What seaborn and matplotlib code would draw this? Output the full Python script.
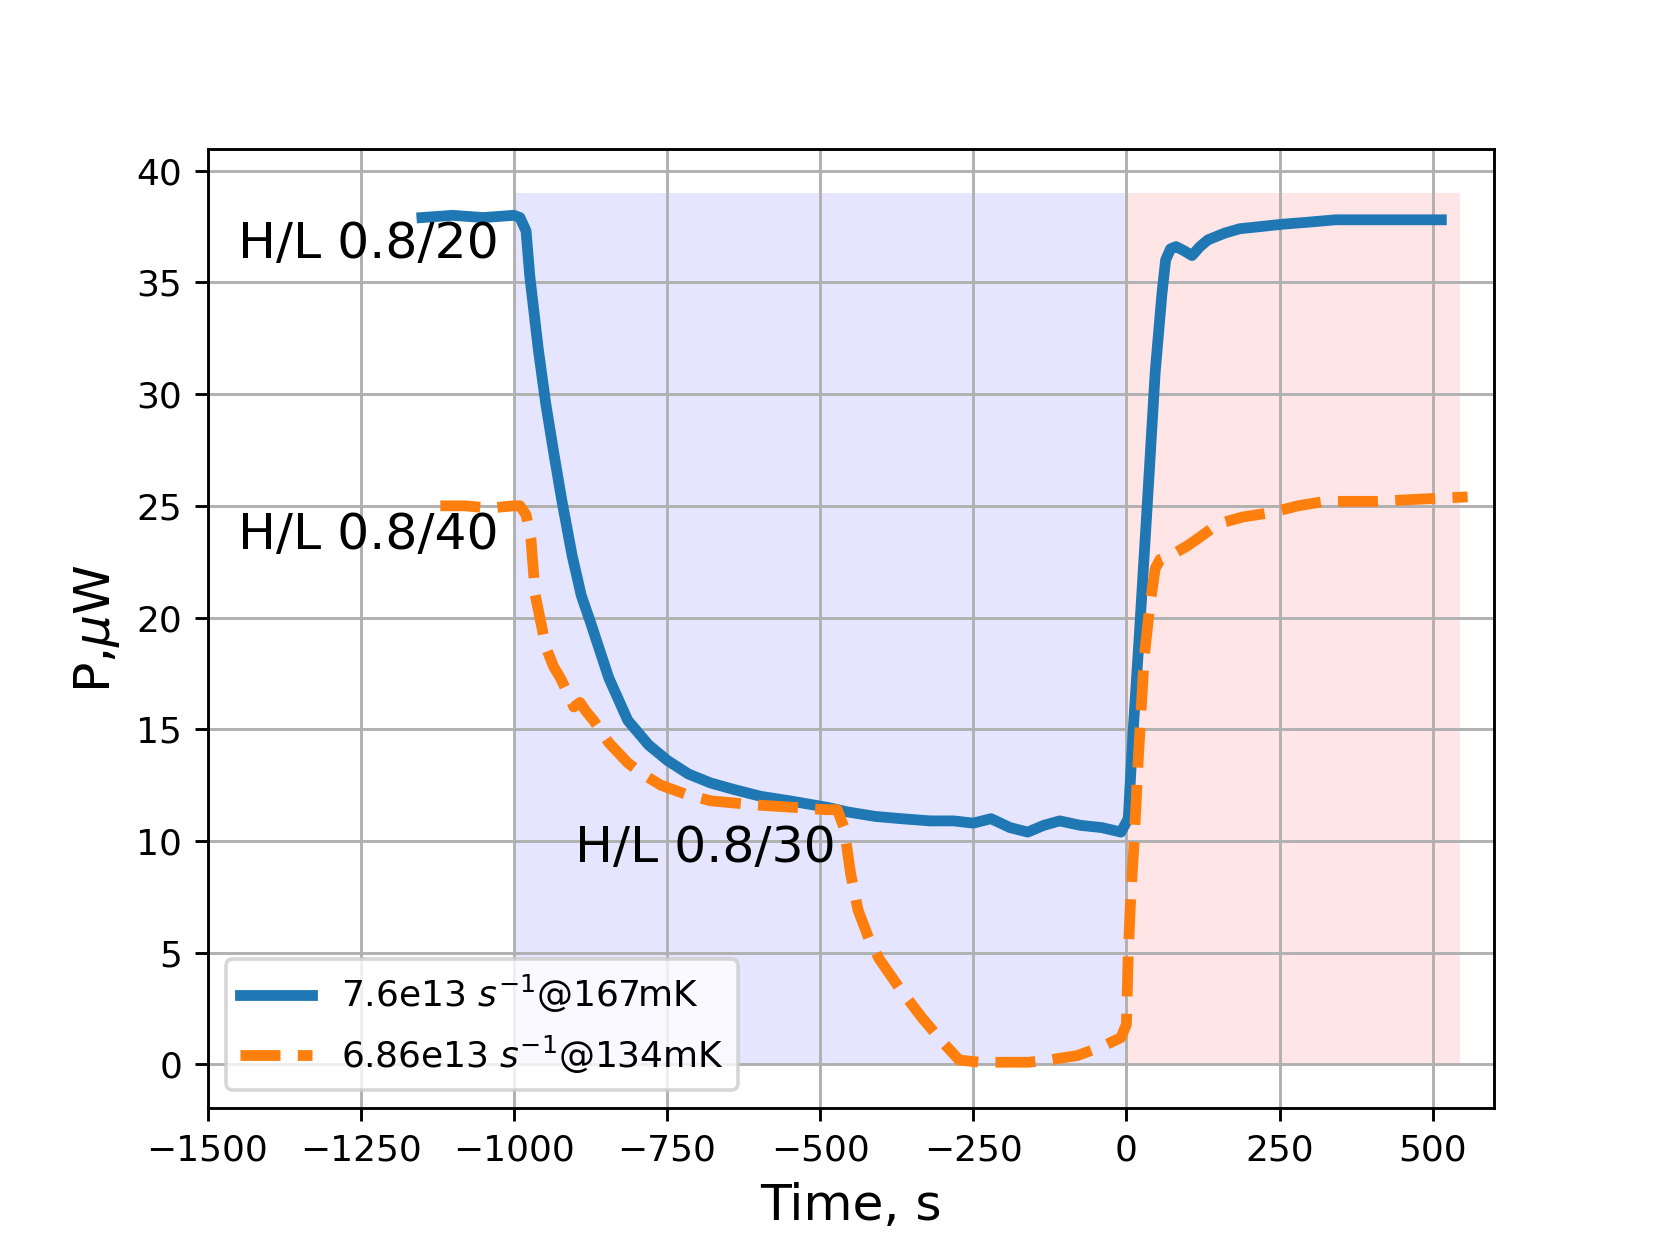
import numpy as np
import pandas as pd
import matplotlib
matplotlib.use("Agg")
import matplotlib.pyplot as plt
import seaborn as sns

t_blue = [-1150, -1100, -1050, -1000, -990, -980, -974, -960, -948, -935, -922, -905, -890,
          -875, -845, -814, -780, -749, -715, -679, -640, -597, -550, -487, -455, -410,
          -368, -320, -282, -250, -221, -190, -161, -135, -109, -75, -40, -9, 3, 10, 21, 35,
          47, 58, 64, 72, 81, 95, 107, 120, 133, 160, 185, 220, 254, 300, 341, 380, 410, 460, 514]
p_blue = [37.9, 38.0, 37.9, 38.0, 37.9, 37.3, 35.3, 32.0, 29.6, 27.4, 25.3, 22.8, 21.0,
          19.8, 17.3, 15.4, 14.3, 13.6, 13.0, 12.6, 12.3, 12.0, 11.8, 11.5, 11.3, 11.1,
          11.0, 10.9, 10.9, 10.8, 11.0, 10.6, 10.4, 10.7, 10.9, 10.7, 10.6, 10.4, 11.0, 14.5, 19.2, 25.5,
          31.0, 34.5, 36.0, 36.5, 36.6, 36.4, 36.2, 36.6, 36.9, 37.2, 37.4, 37.5, 37.6, 37.7, 37.8, 37.8, 37.8, 37.8, 37.8]

t_orange = [-1120, -1080, -1040, -1000, -990, -980, -972, -965, -956, -948, -935, -924, -910,
            -902, -892, -882, -870, -845, -814, -790, -760, -720, -679, -640, -597, -540, -490,
            -472, -461, -450, -438, -420, -403, -370, -334, -300, -273, -240, -196, -160, -126,
            -80, -40, -9, 0, 3, 7, 12, 20, 29, 38, 47, 55, 64, 80, 99, 120, 150, 190, 237, 280,
            324, 370, 410, 480, 557]
p_orange = [25.0, 25.0, 24.9, 25.0, 25.0, 24.6, 23.5, 21.0, 19.8, 18.7, 17.8, 17.3, 16.5,
            16.0, 16.2, 15.8, 15.4, 14.4, 13.5, 13.0, 12.5, 12.1, 11.8, 11.7, 11.6, 11.5, 11.4,
            11.4, 10.6, 8.5, 6.9, 5.6, 4.7, 3.4, 2.1, 1.0, 0.2, 0.1, 0.1, 0.1, 0.2,
            0.4, 0.8, 1.2, 1.8, 5.0, 7.5, 9.7, 14.0, 18.2, 20.5, 22.2, 22.6, 22.7, 22.9, 23.2, 23.6, 24.2, 24.5, 24.7, 25.0,
            25.2, 25.2, 25.2, 25.3, 25.4]

label_blue = r"7.6e13 $s^{-1}$@167mK"
label_orange = r"6.86e13 $s^{-1}$@134mK"

cool_span = [-1000, 0]
warm_span = [0, 545]
span_top = 39

annotations = [("H/L 0.8/20", -1450, 36.7), ("H/L 0.8/40", -1450, 23.7), ("H/L 0.8/30", -900, 9.7)]

df_blue = pd.DataFrame({"t": t_blue, "p": p_blue})
df_orange = pd.DataFrame({"t": t_orange, "p": p_orange})

fig, ax = plt.subplots(figsize=(6.4, 4.8), dpi=259.375)

ax.fill_between(cool_span, 0, span_top, color="b", alpha=0.1, linewidth=0)
ax.fill_between(warm_span, 0, span_top, color="r", alpha=0.1, linewidth=0)

sns.lineplot(data=df_blue, x="t", y="p", ax=ax, color="tab:blue", lw=3, label=label_blue)
sns.lineplot(data=df_orange, x="t", y="p", ax=ax, color="tab:orange", lw=3, ls="--", label=label_orange)

for txt, x, y in annotations:
    ax.text(x, y, txt, fontsize=14, va="center")

ax.set_xlim(-1500, 600)
ax.set_xlabel("Time, s", fontsize=14)
ax.set_ylabel(r"P,$\mu$W", fontsize=14)
ax.grid(True)
ax.legend(loc="lower left", fontsize=10)

fig.savefig("out.png", dpi=259.375)
